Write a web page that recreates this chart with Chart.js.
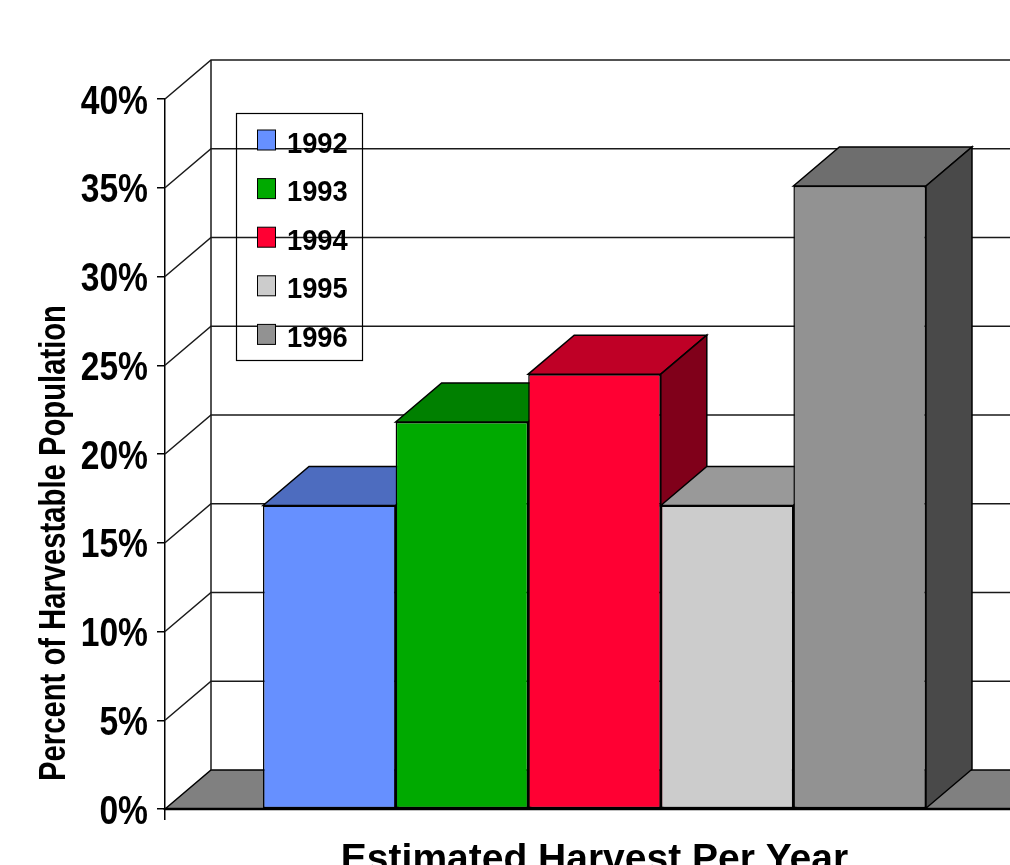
<!DOCTYPE html>
<html><head><meta charset="utf-8">
<script src="https://cdn.jsdelivr.net/npm/chart.js@4.4.1/dist/chart.umd.min.js"></script>
<style>
html,body{margin:0;padding:0;background:#fff;overflow:hidden;width:1010px;height:865px}
#wrap{width:1040px;height:865px;position:relative}
canvas{display:block}
</style></head>
<body><div id="wrap"><canvas id="c" width="1040" height="865"></canvas></div>
<script>
// ---- data ----
const categories = ['Estimated Harvest Per Year'];
const years = ['1992', '1993', '1994', '1995', '1996'];
const harvestPercent = [17.1, 21.8, 24.5, 17.1, 35.1];
const yAxisTitle = 'Percent of Harvestable Population';
const yMin = 0, yMax = 40, yStep = 5;

// ---- styles ----
const frontColors = ['#6690FF', '#00AA00', '#FF0033', '#CCCCCC', '#929292'];
const DX = 46, DY = -39;           // 3D depth offset
const SANS = '"Liberation Sans", Arial, sans-serif';

function shade(hex, f) {
  const n = parseInt(hex.slice(1), 16);
  const r = Math.round(((n >> 16) & 255) * f), g = Math.round(((n >> 8) & 255) * f), b = Math.round((n & 255) * f);
  return `rgb(${r},${g},${b})`;
}
function poly(ctx, pts, fill) {
  ctx.beginPath();
  ctx.moveTo(pts[0][0], pts[0][1]);
  for (let k = 1; k < pts.length; k++) ctx.lineTo(pts[k][0], pts[k][1]);
  ctx.closePath();
  ctx.fillStyle = fill; ctx.fill();
  ctx.strokeStyle = '#000'; ctx.lineWidth = 1.5; ctx.stroke();
}
// text drawn with horizontal condensing (narrow bold face look)
function narrowText(ctx, text, x, y, sx, font, align, baseline, rot) {
  ctx.save();
  ctx.translate(x, y);
  if (rot) ctx.rotate(rot);
  ctx.scale(sx, 1);
  ctx.font = font; ctx.textAlign = align; ctx.textBaseline = baseline;
  ctx.fillStyle = '#000';
  ctx.fillText(text, 0, 0);
  ctx.restore();
}

const threeD = {
  id: 'threeD',
  beforeDatasetsDraw(chart) {
    const { ctx, chartArea: { left: L, top: T, bottom: B }, scales: { y } } = chart;
    const W = chart.width + 20;
    ctx.save();
    ctx.lineJoin = 'miter';
    // floor
    poly(ctx, [[L, B], [L + DX, B + DY], [W, B + DY], [W, B]], '#808080');
    // back wall / side wall gridlines
    ctx.strokeStyle = '#1a1a1a'; ctx.lineWidth = 1.5;
    y.ticks.forEach(t => {
      if (t.value === yMin) return;
      const py = y.getPixelForValue(t.value);
      ctx.beginPath(); ctx.moveTo(L, py); ctx.lineTo(L + DX, py + DY); ctx.lineTo(W, py + DY); ctx.stroke();
    });
    ctx.beginPath(); ctx.moveTo(L + DX, T + DY); ctx.lineTo(L + DX, B + DY); ctx.stroke();
    // bars: front (library element), top, side — left to right
    chart.data.datasets.forEach((ds, i) => {
      const meta = chart.getDatasetMeta(i);
      meta.data.forEach(el => {
        const { x, y: top, width, base } = el.getProps(['x', 'y', 'width', 'base'], true);
        el.draw(ctx);
        const x0 = x - width / 2, x1 = x + width / 2;
        poly(ctx, [[x0, top], [x0 + DX, top + DY], [x1 + DX, top + DY], [x1, top]], shade(ds.backgroundColor, 0.75));
        poly(ctx, [[x1, top], [x1 + DX, top + DY], [x1 + DX, base + DY], [x1, base]], shade(ds.backgroundColor, 0.5));
      });
    });
    // front bottom edge
    ctx.beginPath(); ctx.moveTo(L, B); ctx.lineTo(W, B);
    ctx.strokeStyle = '#000'; ctx.lineWidth = 2.5; ctx.stroke();
    ctx.restore();
    return false;
  },
  afterDraw(chart) {
    const { ctx, chartArea: { left: L, right: R }, scales: { y } } = chart;
    ctx.save();
    // y tick labels (from the library's ticks)
    y.ticks.forEach(t => {
      const py = y.getPixelForValue(t.value);
      narrowText(ctx, t.label, L - 17, py + 14.5, 0.84, 'bold 40px ' + SANS, 'right', 'alphabetic');
    });
    // legend
    ctx.strokeStyle = '#000'; ctx.lineWidth = 1.2;
    ctx.strokeRect(236.5, 113.5, 126, 247);
    chart.data.datasets.forEach((ds, i) => {
      const yc = 140 + i * 48.6;
      ctx.fillStyle = ds.backgroundColor;
      ctx.fillRect(257.5, yc - 10, 18, 20);
      ctx.lineWidth = 1; ctx.strokeStyle = '#000';
      ctx.strokeRect(257.5, yc - 10, 18, 20);
      narrowText(ctx, ds.label, 287, yc + 12.5, 0.91, 'bold 30px ' + SANS, 'left', 'alphabetic');
    });
    // y axis title
    narrowText(ctx, yAxisTitle, 65, 543, 0.79, 'bold 37px ' + SANS, 'center', 'alphabetic', -Math.PI / 2);
    // x axis (category) title
    narrowText(ctx, chart.data.labels[0], (L + R) / 2, 871, 1, 'bold 39px ' + SANS, 'center', 'alphabetic');
    ctx.restore();
  }
};

const datasets = years.map((yr, i) => ({
  label: yr,
  data: [harvestPercent[i]],
  backgroundColor: frontColors[i],
  borderColor: '#000',
  borderWidth: 1.5,
  borderSkipped: false,
  categoryPercentage: 0.7718,
  barPercentage: 1.0
}));

new Chart(document.getElementById('c'), {
  type: 'bar',
  data: { labels: categories, datasets },
  options: {
    responsive: false,
    animation: false,
    devicePixelRatio: 1,
    layout: { padding: { top: 99, right: 16, left: 0, bottom: 0 } },
    plugins: { legend: { display: false }, tooltip: { enabled: false }, title: { display: false } },
    scales: {
      x: {
        grid: { display: true, drawOnChartArea: false, drawTicks: true, tickLength: 11, color: '#000', lineWidth: 1.5, offset: true },
        border: { display: false },
        ticks: { display: false },
        afterFit(s) { s.height = 56; }
      },
      y: {
        min: yMin, max: yMax,
        ticks: {
          display: false,
          stepSize: yStep,
          callback: v => v + '%'
        },
        grid: { drawOnChartArea: false, drawTicks: true, tickLength: 8, color: '#000', lineWidth: 1.5 },
        border: { display: true, color: '#000', width: 1.5 },
        afterFit(s) { s.width = 165; }
      }
    }
  },
  plugins: [threeD]
});
</script>
</body></html>
